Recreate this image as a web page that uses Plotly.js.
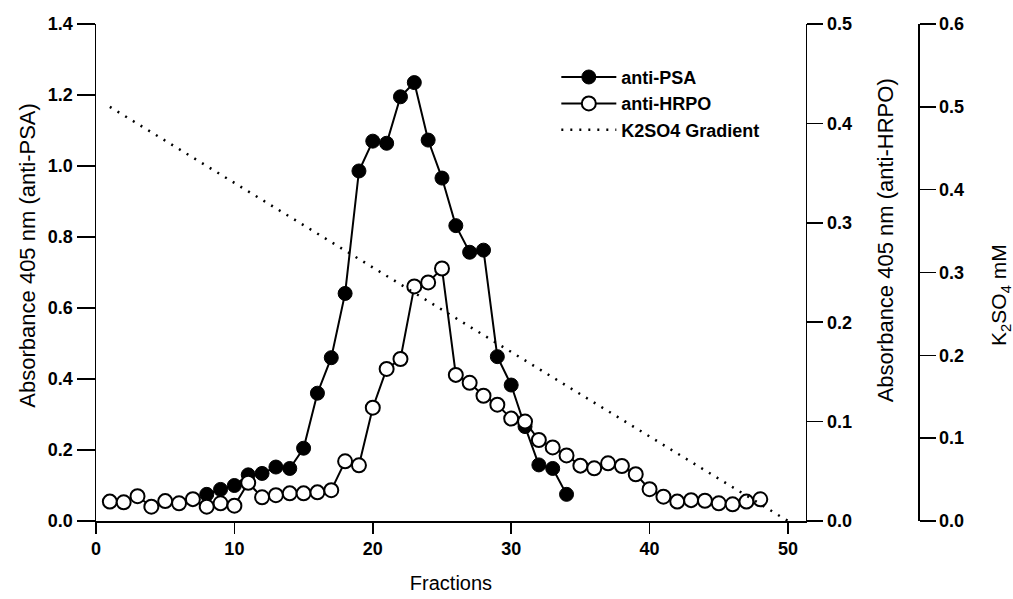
<!DOCTYPE html>
<html>
<head>
<meta charset="utf-8">
<script src="https://cdn.plot.ly/plotly-3.0.1.min.js"></script>
<style>html,body{margin:0;padding:0;background:#fff;}#chart{width:1013px;height:599px;}</style>
</head>
<body>
<div id="chart"></div>
<script>
const psaFractions = [8,9,10,11,12,13,14,15,16,17,18,19,20,21,22,23,24,25,26,27,28,29,30,31,32,33,34];
const psaValues = [0.075,0.089,0.10,0.13,0.134,0.152,0.148,0.205,0.36,0.46,0.641,0.986,1.07,1.064,1.195,1.235,1.073,0.966,0.832,0.757,0.763,0.463,0.383,0.266,0.158,0.148,0.075];

const hrpoFractions = [1,2,3,4,5,6,7,8,9,10,11,12,13,14,15,16,17,18,19,20,21,22,23,24,25,26,27,28,29,30,31,32,33,34,35,36,37,38,39,40,41,42,43,44,45,46,47,48];
const hrpoValues = [0.0195,0.0188,0.025,0.0144,0.020,0.0178,0.022,0.0144,0.0178,0.0154,0.0385,0.0238,0.026,0.0278,0.0278,0.0288,0.031,0.060,0.056,0.114,0.153,0.163,0.236,0.240,0.254,0.147,0.139,0.126,0.117,0.103,0.100,0.0815,0.074,0.066,0.0557,0.053,0.058,0.0553,0.047,0.032,0.0245,0.0195,0.021,0.0204,0.0178,0.0168,0.0195,0.0218];

const gradientFractions = [1, 50];
const gradientValues = [0.5, 0];

const xTicks = [0,10,20,30,40,50];
const y1Ticks = [0,0.2,0.4,0.6,0.8,1.0,1.2,1.4];
const y2Ticks = [0,0.1,0.2,0.3,0.4,0.5];
const y3Ticks = [0,0.1,0.2,0.3,0.4,0.5,0.6];

const xTitle = 'Fractions';
const y1Title = 'Absorbance 405 nm (anti-PSA)';
const y2Title = 'Absorbance 405 nm (anti-HRPO)';
const y3Title = 'K<sub>2</sub>SO<sub>4</sub> mM';

const FONT = 'Liberation Sans, Arial, sans-serif';
const tickFont = {family: FONT, size: 18, color: '#000', weight: 'bold'};
const titleFont = {family: FONT, size: 20, color: '#000'};

const traces = [
  {
    x: psaFractions, y: psaValues, name: 'anti-PSA', type: 'scatter', mode: 'lines+markers',
    line: {color: '#000', width: 2},
    marker: {symbol: 'circle', size: 14, color: '#000', line: {color: '#000', width: 1}},
    xaxis: 'x', yaxis: 'y'
  },
  {
    x: hrpoFractions, y: hrpoValues, name: 'anti-HRPO', type: 'scatter', mode: 'lines+markers',
    line: {color: '#000', width: 2},
    marker: {symbol: 'circle', size: 14, color: '#fff', line: {color: '#000', width: 2}},
    xaxis: 'x', yaxis: 'y2'
  },
  {
    x: gradientFractions, y: gradientValues, name: 'K2SO4 Gradient', type: 'scatter', mode: 'lines',
    line: {color: '#000', width: 2.5, dash: '2px,7px'},
    xaxis: 'x', yaxis: 'y3'
  }
];

const layout = {
  width: 1013, height: 599,
  margin: {l: 96, r: 95, t: 24, b: 78},
  paper_bgcolor: '#fff', plot_bgcolor: '#fff',
  showlegend: true,
  legend: {
    x: 0.56, y: 0.93, xanchor: 'left', yanchor: 'top',
    font: {family: FONT, size: 18, color: '#000', weight: 'bold'},
    bgcolor: 'rgba(0,0,0,0)', tracegroupgap: 0, itemwidth: 55
  },
  xaxis: {
    domain: [0, 0.8637], range: [0, 51.3],
    tickmode: 'array', tickvals: xTicks, ticktext: xTicks.map(String),
    ticks: 'outside', ticklen: 11, tickwidth: 1.5, tickcolor: '#000',
    showline: true, linecolor: '#000', linewidth: 1.5, showgrid: false, zeroline: false,
    tickfont: tickFont,
    title: {text: xTitle, font: titleFont, standoff: 18}
  },
  yaxis: {
    range: [0, 1.4],
    tickmode: 'array', tickvals: y1Ticks, ticktext: y1Ticks.map(v => v.toFixed(1)),
    ticks: 'outside', ticklen: 18, tickwidth: 1.5, tickcolor: '#000',
    showline: true, linecolor: '#000', linewidth: 1.5, showgrid: false, zeroline: false,
    tickfont: tickFont
  },
  yaxis2: {
    range: [0, 0.5], overlaying: 'y', side: 'right', anchor: 'x',
    tickmode: 'array', tickvals: y2Ticks, ticktext: y2Ticks.map(v => v.toFixed(1)),
    ticks: 'outside', ticklen: 16, tickwidth: 1.5, tickcolor: '#000',
    showline: true, linecolor: '#000', linewidth: 1.5, showgrid: false, zeroline: false,
    tickfont: tickFont
  },
  yaxis3: {
    range: [0, 0.6], overlaying: 'y', side: 'right', anchor: 'free', position: 1,
    tickmode: 'array', tickvals: y3Ticks, ticktext: y3Ticks.map(v => v.toFixed(1)),
    ticks: 'outside', ticklen: 16, tickwidth: 1.5, tickcolor: '#000',
    showline: true, linecolor: '#000', linewidth: 1.5, showgrid: false, zeroline: false,
    tickfont: tickFont
  },
  annotations: [
    {text: y1Title, xref: 'paper', yref: 'paper', x: -0.0833, y: 0.535, textangle: -90,
     showarrow: false, xanchor: 'center', yanchor: 'middle', font: {family: FONT, size: 22, color: '#000'}},
    {text: y2Title, xref: 'paper', yref: 'paper', x: 0.96, y: 0.565, textangle: -90,
     showarrow: false, xanchor: 'center', yanchor: 'middle', font: {family: FONT, size: 22, color: '#000'}},
    {text: y3Title, xref: 'paper', yref: 'paper', x: 1.0998, y: 0.455, textangle: -90,
     showarrow: false, xanchor: 'center', yanchor: 'middle', font: {family: FONT, size: 21, color: '#000'}}
  ]
};

Plotly.newPlot('chart', traces, layout, {displayModeBar: false, staticPlot: true});
</script>
</body>
</html>
